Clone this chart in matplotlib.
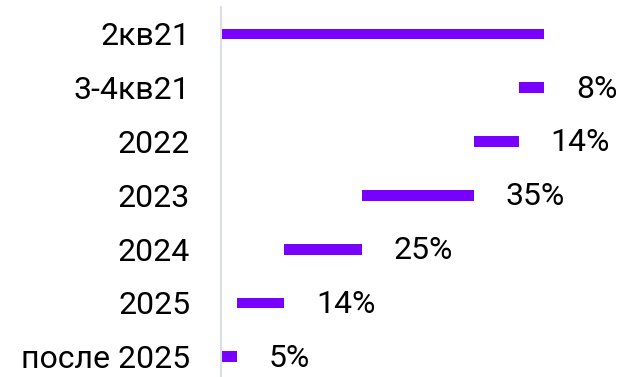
import matplotlib.pyplot as plt

# categories top to bottom
periods = ["2кв21", "3-4кв21", "2022", "2023", "2024", "2025", "после 2025"]
# share of each period (%), first row is the total
shares = [100, 7.8, 13.9, 34.8, 24.2, 14.6, 4.7]
share_labels = ["", "8%", "14%", "35%", "25%", "14%", "5%"]

purple = "#7700ff"
plt.rcParams['font.family'] = ['Roboto', 'DejaVu Sans']

fig = plt.figure(figsize=(6.26, 3.77), dpi=100)
ax = fig.add_axes([220.7 / 626, 0, 1 - 220.7 / 626, 1 - 7 / 377])

# waterfall: the total bar from 0, the rest stacked down from the right end
lefts = [0]
end = shares[0]
for s in shares[1:]:
    lefts.append(end - s)
    end = end - s

ypos = list(range(len(periods)))
ax.barh(ypos, shares, left=lefts, height=0.2, color=purple)

for y, left, w, lab in zip(ypos, lefts, shares, share_labels):
    if lab:
        ax.annotate(lab, (left + w, y), xytext=(23, -1), textcoords="offset points",
                    va="center", ha="left", fontsize=23, color="black")

ax.set_yticks(ypos)
ax.set_yticklabels(periods, fontsize=23)
ax.set_ylim(6.375, -0.5)
ax.set_xlim(-0.4, 125.5)
ax.set_xticks([])
ax.tick_params(axis="y", length=0, pad=22)

for side in ["top", "right", "bottom"]:
    ax.spines[side].set_visible(False)
ax.spines["left"].set_color("#d9dee8")
ax.spines["left"].set_linewidth(1.5)

fig.savefig("out.png", dpi=100)
